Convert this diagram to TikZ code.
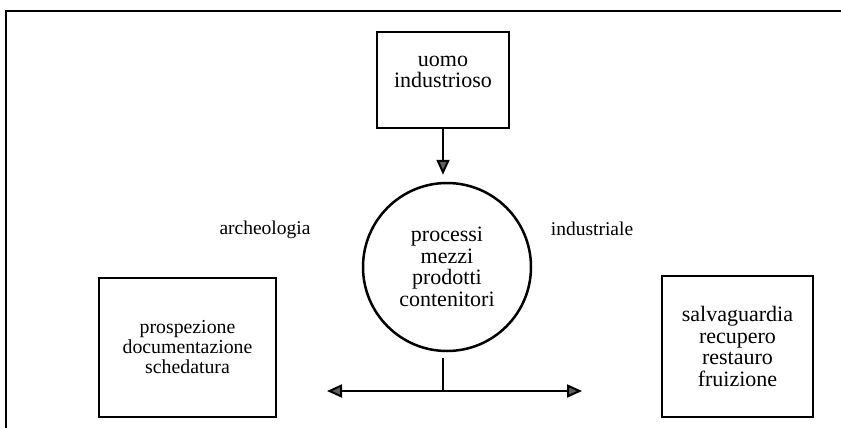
\documentclass[tikz,border=0pt]{standalone}
\usepackage{fontspec}
\setmainfont{Liberation Serif}
\usepackage{tikz}
\usetikzlibrary{arrows.meta,positioning,calc}
\definecolor{tipgray}{HTML}{5E5E5E}

\begin{document}
\begin{tikzpicture}[x=1pt, y=-1pt,
    >={Triangle[length=15pt, width=13pt, fill=tipgray]},
    box/.style={draw, line width=2.5pt, align=center, font=\fontsize{22}{21.5}\selectfont},
    lbl/.style={font=\fontsize{19.5}{20}\selectfont}]
  \useasboundingbox (0,0) rectangle (841,428);
  % frame
  \draw[line width=1.2pt] (6,428) -- (6,11) -- (841,11);

  % nodes
  \node[box, minimum width=132pt, minimum height=96pt, text depth=16pt] (uomo) at (443,80) {uomo\\industrioso};
  \node[box, circle, minimum size=168pt, inner sep=0pt] (proc) at (447,267) {processi\\mezzi\\prodotti\\contenitori};
  \node[box, minimum width=177pt, minimum height=139pt, font=\fontsize{19.8}{20}\selectfont] (prosp) at (187.5,347.5) {prospezione\\documentazione\\schedatura};
  \node[box, minimum width=151pt, minimum height=141pt] (salva) at (737.5,346.5) {salvaguardia\\recupero\\restauro\\fruizione};
  \node[lbl] (arch) at (265,230) {archeologia};
  \node[lbl] (indu) at (592,229) {industriale};

  % connectors
  \coordinate (junc) at (443,391);
  \coordinate (lend) at (327,391);
  \coordinate (rend) at (582,391);
  \draw[->, line width=2pt, shorten >=7pt] (uomo.south) -- (uomo.south |- proc.north);
  \draw[line width=2pt] (junc |- proc.south) ++(0,6) -- (junc);
  \draw[->, line width=2pt] (junc) -- (lend);
  \draw[->, line width=2pt] (junc) -- (rend);
\end{tikzpicture}
\end{document}
